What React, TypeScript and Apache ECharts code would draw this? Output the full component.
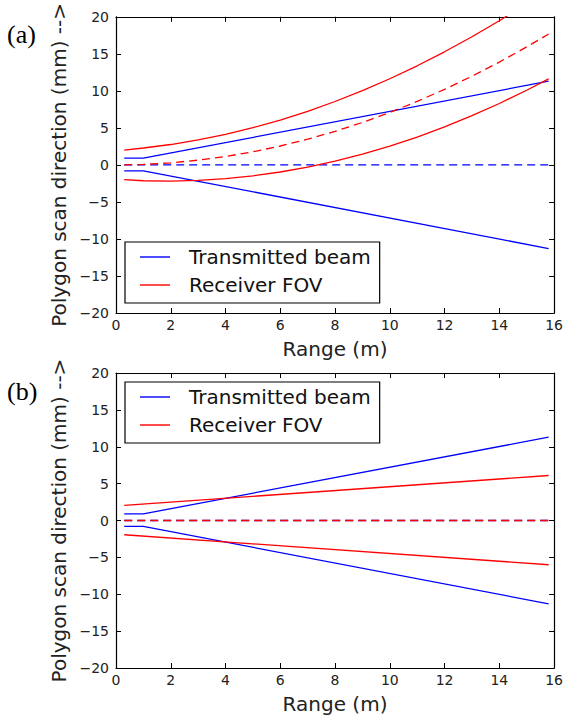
import React, { useEffect, useRef } from "react";
import * as echarts from "echarts";

// Range values (m) at which the curves were read
const rangeX = [0.3, 1, 2, 3, 4, 5, 6, 7, 8, 9, 10, 11, 12, 13, 14, 15, 15.8];
// (a) receiver FOV
const rxCenterA = [0.0, 0.07, 0.28, 0.64, 1.13, 1.77, 2.55, 3.47, 4.53, 5.73, 7.08, 8.57, 10.2, 11.97, 13.88, 15.93, 17.67];
const rxUpperA = [2.0, 2.28, 2.75, 3.37, 4.12, 5.02, 6.06, 7.24, 8.56, 10.02, 11.63, 13.38, 15.27, 17.3, 19.47, 21.78, 23.73];
const rxLowerA = [-2.0, -2.14, -2.19, -2.09, -1.86, -1.48, -0.96, -0.3, 0.5, 1.44, 2.53, 3.76, 5.13, 6.64, 8.29, 10.08, 11.61];
// transmitted beam (same in a and b)
const txX = [0.3, 1, 15.8];
const txUpper = [0.9, 0.9, 11.3];
const txLower = [-0.8, -0.8, -11.3];
const txCenter = [0, 0, 0];
// (b) receiver FOV
const rxXB = [0.3, 15.8];
const rxUpperB = [2.05, 6.1];
const rxLowerB = [-1.93, -6.0];
const rxCenterB = [0, 0];

const xTicks = [0, 2, 4, 6, 8, 10, 12, 14, 16];
const yTicks = [-20, -15, -10, -5, 0, 5, 10, 15, 20];

const BLUE = "#0000ff";
const RED = "#ff0000";
const FONT = "DejaVu Sans";

const zip = (xs: number[], ys: number[]) => xs.map((x, i) => [x, ys[i]]);

export default function App() {
  const ref = useRef<HTMLDivElement>(null);
  useEffect(() => {
    const chart = echarts.init(ref.current!, null, { renderer: "svg" });
    const grids = [
      { left: 116, top: 16, width: 444, height: 297 },
      { left: 116, top: 373, width: 444, height: 295 },
    ];
    const tickStyle = { show: true, inside: true, length: 5, lineStyle: { color: "#000", width: 1 } };
    const lineAx = { show: true, onZero: false, lineStyle: { color: "#000", width: 1.2 } };
    const xAxis: any[] = [];
    const yAxis: any[] = [];
    [0, 1].forEach((g) => {
      xAxis.push({
        type: "value", gridIndex: g, min: xTicks[0], max: xTicks[xTicks.length - 1], interval: 2,
        position: "bottom", axisLine: lineAx, axisTick: tickStyle, splitLine: { show: false },
        axisLabel: { color: "#222", fontFamily: FONT, fontSize: 14, margin: 5 },
        name: "Range (m)", nameLocation: "middle", nameGap: 26,
        nameTextStyle: { color: "#222", fontFamily: FONT, fontSize: 20 },
      });
      xAxis.push({
        type: "value", gridIndex: g, min: xTicks[0], max: xTicks[xTicks.length - 1], interval: 2,
        position: "top", axisLine: lineAx, axisTick: tickStyle, splitLine: { show: false },
        axisLabel: { show: false },
      });
      yAxis.push({
        type: "value", gridIndex: g, min: yTicks[0], max: yTicks[yTicks.length - 1], interval: 5,
        position: "left", axisLine: lineAx, axisTick: tickStyle, splitLine: { show: false },
        axisLabel: {
          color: "#222", fontFamily: FONT, fontSize: 14, margin: 7,
          formatter: (v: number) => String(v).replace("-", "\u2212"),
        },
        name: "Polygon scan direction (mm) -->", nameLocation: "middle", nameGap: 41, nameRotate: 90,
        nameTextStyle: { color: "#222", fontFamily: FONT, fontSize: 20 },
      });
      yAxis.push({
        type: "value", gridIndex: g, min: yTicks[0], max: yTicks[yTicks.length - 1], interval: 5,
        position: "right", axisLine: lineAx, axisTick: tickStyle, splitLine: { show: false },
        axisLabel: { show: false },
      });
    });
    const mk = (name: string, data: number[][], color: string, g: number, dashed = false) => ({
      type: "line", name, data, xAxisIndex: g * 2, yAxisIndex: g * 2,
      symbol: "none", showSymbol: false, clip: true, silent: true,
      lineStyle: { color, width: 1.3, type: dashed ? [8, 5] : "solid" },
      itemStyle: { color },
    });
    const series = [
      mk("Transmitted beam", zip(txX, txUpper), BLUE, 0),
      mk("Transmitted beam", zip(txX, txLower), BLUE, 0),
      mk("Transmitted beam centre", zip(txX, txCenter), BLUE, 0, true),
      mk("Receiver FOV", zip(rangeX, rxUpperA), RED, 0),
      mk("Receiver FOV", zip(rangeX, rxLowerA), RED, 0),
      mk("Receiver FOV centre", zip(rangeX, rxCenterA), RED, 0, true),
      mk("Transmitted beam", zip(txX, txUpper), BLUE, 1),
      mk("Transmitted beam", zip(txX, txLower), BLUE, 1),
      mk("Transmitted beam centre", zip(txX, txCenter), BLUE, 1, true),
      mk("Receiver FOV", zip(rxXB, rxUpperB), RED, 1),
      mk("Receiver FOV", zip(rxXB, rxLowerB), RED, 1),
      mk("Receiver FOV centre", zip(rxXB, rxCenterB), RED, 1, true),
    ];
    const legendBase = {
      orient: "vertical", left: 125,
      data: ["Transmitted beam", "Receiver FOV"],
      icon: "rect",
      backgroundColor: "#fff", borderColor: "#000", borderWidth: 1.2, borderRadius: 0,
      padding: [5, 9, 8, 15], itemWidth: 30, itemHeight: 1.4, itemGap: 8,
      selectedMode: false,
      textStyle: { color: "#111", fontFamily: FONT, fontSize: 20, lineHeight: 20, padding: [0, 0, 0, 14] },
    };
    chart.setOption({
      animation: false,
      backgroundColor: "#fff",
      grid: grids,
      xAxis, yAxis, series,
      legend: [
        { ...legendBase, top: 242 },
        { ...legendBase, top: 382 },
      ],
      graphic: [
        { type: "text", left: 7, top: 21, style: { text: "(a)", font: "26px 'Liberation Serif'", fill: "#000" } },
        { type: "text", left: 7, top: 378, style: { text: "(b)", font: "26px 'Liberation Serif'", fill: "#000" } },
      ],
    });
    return () => chart.dispose();
  }, []);
  return <div ref={ref} style={{ position: "fixed", left: 0, top: 0, width: 566, height: 717 }} />;
}
